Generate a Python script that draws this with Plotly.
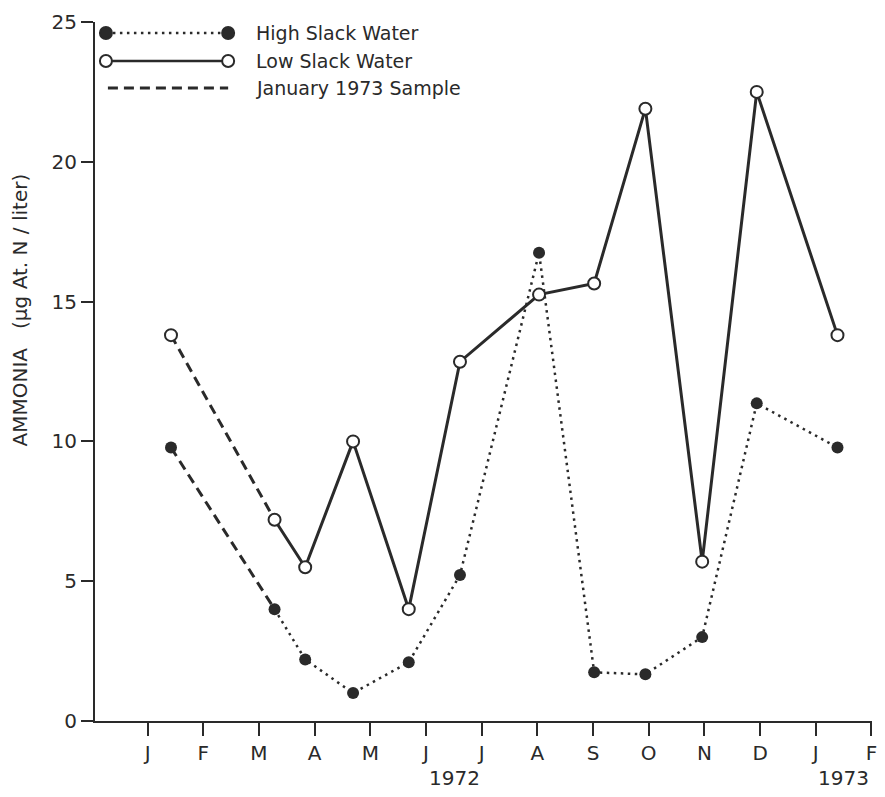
import plotly.graph_objects as go

# ---- data (months since Jan 1972; Jan 1972 = 0) ----
month_ticks = list(range(14))
month_labels = ["J", "F", "M", "A", "M", "J", "J", "A", "S", "O", "N", "D", "J", "F"]
y_ticks = [0, 5, 10, 15, 20, 25]

sample_x = [2.28, 2.83, 3.69, 4.69, 5.61, 7.03, 8.02, 8.94, 9.96, 10.94, 12.39]
low_slack = [7.2, 5.5, 10.0, 4.0, 12.85, 15.25, 15.65, 21.9, 5.7, 22.5, 13.8]
high_slack = [4.0, 2.2, 1.0, 2.1, 5.22, 16.75, 1.74, 1.67, 3.0, 11.36, 9.78]

# January 1973 sample repeated at the start of the year
jan_x = [0.42]
jan_low = [13.8]
jan_high = [9.78]

INK = "#2a2a2a"
FONT = "DejaVu Sans"

fig = go.Figure()

# dashed connectors from the January 1973 sample to the March values
fig.add_trace(go.Scatter(x=jan_x + sample_x[:1], y=jan_low + low_slack[:1], mode="lines",
                         line=dict(color=INK, width=3, dash="10px,6px"), cliponaxis=False))
fig.add_trace(go.Scatter(x=jan_x + sample_x[:1], y=jan_high + high_slack[:1], mode="lines",
                         line=dict(color=INK, width=3, dash="10px,6px"), cliponaxis=False))

# high slack water (dotted, filled markers)
fig.add_trace(go.Scatter(x=sample_x, y=high_slack, mode="lines",
                         line=dict(color=INK, width=2.5, dash="2.5px,4.5px"), cliponaxis=False))
# low slack water (solid, open markers)
fig.add_trace(go.Scatter(x=sample_x, y=low_slack, mode="lines+markers",
                         line=dict(color=INK, width=3),
                         marker=dict(symbol="circle", size=12, color="white",
                                     line=dict(color=INK, width=2)), cliponaxis=False))
fig.add_trace(go.Scatter(x=sample_x, y=high_slack, mode="markers",
                         marker=dict(symbol="circle", size=12, color=INK), cliponaxis=False))
fig.add_trace(go.Scatter(x=jan_x, y=jan_low, mode="markers",
                         marker=dict(symbol="circle", size=12, color="white",
                                     line=dict(color=INK, width=2)), cliponaxis=False))
fig.add_trace(go.Scatter(x=jan_x, y=jan_high, mode="markers",
                         marker=dict(symbol="circle", size=12, color=INK), cliponaxis=False))

# ---- legend drawn as layout decoration (paper coords) ----
plot_l, plot_r, plot_t, plot_b = 95, 877, 22, 721
def px(xp):
    return (xp - plot_l) / (plot_r - plot_l)
def py(yp):
    return (plot_b - yp) / (plot_b - plot_t)

shapes = []
rows = [(33, "dot"), (61, "solid"), (88, "dash")]
for yy, kind in rows:
    if kind == "dot":
        shapes.append(dict(type="line", xref="paper", yref="paper", x0=px(106), x1=px(229),
                           y0=py(yy), y1=py(yy), line=dict(color=INK, width=2.5, dash="2.5px,4.5px")))
    elif kind == "solid":
        shapes.append(dict(type="line", xref="paper", yref="paper", x0=px(106), x1=px(229),
                           y0=py(yy), y1=py(yy), line=dict(color=INK, width=2.5)))
    else:
        shapes.append(dict(type="line", xref="paper", yref="paper", x0=px(108), x1=px(229),
                           y0=py(yy), y1=py(yy), line=dict(color=INK, width=3, dash="10px,6px")))
for yy, filled in [(33, True), (61, False)]:
    for xx in (106, 229):
        shapes.append(dict(type="circle", xref="paper", yref="paper",
                           xsizemode="pixel", ysizemode="pixel",
                           xanchor=px(xx), yanchor=py(yy), x0=-6, x1=6, y0=-6, y1=6,
                           fillcolor=INK if filled else "white",
                           line=dict(color=INK, width=2)))

legend_texts = ["High Slack Water", "Low Slack Water", "January 1973 Sample"]
annotations = []
for (yy, _), t in zip(rows, legend_texts):
    annotations.append(dict(text=t, xref="paper", yref="paper", x=px(255), y=py(yy),
                            xanchor="left", yanchor="middle", showarrow=False,
                            font=dict(family=FONT, size=19, color=INK)))

# y axis title
annotations.append(dict(text="AMMONIA   (μg At. N / liter)", xref="paper", yref="paper",
                        x=px(20), y=py(310), textangle=-90, xanchor="center", yanchor="middle",
                        showarrow=False, font=dict(family=FONT, size=20, color=INK)))
# years
annotations.append(dict(text="1972", xref="x", yref="paper", x=6, y=py(778),
                        xanchor="right", yanchor="middle", showarrow=False,
                        font=dict(family=FONT, size=20, color=INK)))
annotations.append(dict(text="1973", xref="x", yref="paper", x=13, y=py(778),
                        xanchor="right", yanchor="middle", showarrow=False,
                        font=dict(family=FONT, size=20, color=INK)))

fig.update_layout(
    width=885, height=797,
    margin=dict(l=plot_l, r=885 - plot_r, t=plot_t, b=797 - plot_b),
    paper_bgcolor="white", plot_bgcolor="white",
    showlegend=False,
    shapes=shapes, annotations=annotations,
    font=dict(family=FONT, color=INK),
)
fig.update_xaxes(range=[-0.945, 13.01], tickvals=month_ticks, ticktext=month_labels,
                 showgrid=False, zeroline=False, showline=True, linecolor=INK, linewidth=2,
                 ticks="outside", ticklen=13, tickwidth=2, tickcolor=INK,
                 tickfont=dict(family=FONT, size=20, color=INK))
fig.update_yaxes(range=[0, 25], tickvals=y_ticks,
                 showgrid=False, zeroline=False, showline=True, linecolor=INK, linewidth=2,
                 ticks="outside", ticklen=12, tickwidth=2, tickcolor=INK,
                 tickfont=dict(family=FONT, size=20, color=INK))

fig.write_html("out.html")
